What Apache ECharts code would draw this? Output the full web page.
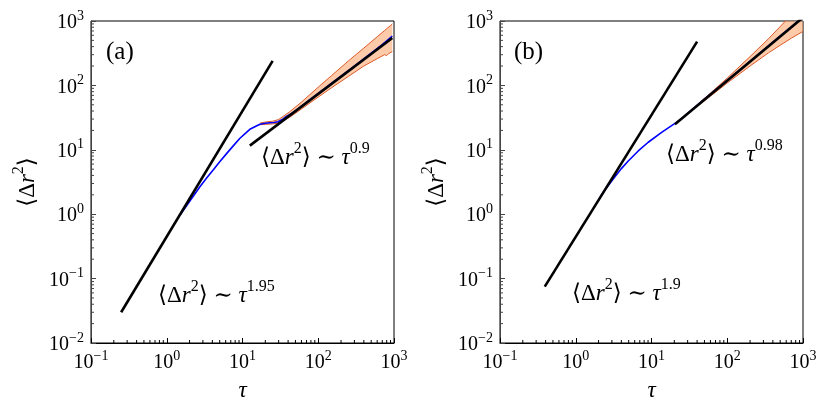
<!DOCTYPE html>
<html>
<head>
<meta charset="utf-8">
<title>MSD</title>
<script src="https://cdn.jsdelivr.net/npm/echarts@6/dist/echarts.min.js"></script>
<style>
html,body{margin:0;padding:0;background:#fff;}
#main{width:830px;height:415px;}
</style>
</head>
<body>
<div id="main"></div>
<script>
var FONT = '"Liberation Serif", "DejaVu Serif", serif';

// ---- panel (a) ----
var tauBlueA = [1.5, 1.74, 2.2, 2.74, 3.4, 4.1, 5, 6.2, 7.5, 9.25, 11, 12.5, 15, 17, 20, 23, 26, 29.5, 34, 38, 45, 57, 80, 120, 200, 300, 500, 700, 950];
var msdBlueA = [0.97, 1.25, 1.85, 2.67, 3.7, 4.85, 6.5, 8.8, 11.4, 15.1, 18.1, 20.8, 23.2, 25, 25.8, 26.3, 26.6, 27.3, 30, 33, 37, 45, 61.5, 88, 139, 200, 316, 430, 585];
var tauBandA = [17, 20, 25, 30, 42, 60, 100, 150, 250, 400, 600, 750, 800, 850, 900, 950];
var upperA = [26, 27, 27.8, 29.5, 39, 55, 94, 142, 240, 380, 570, 710, 760, 805, 850, 900];
var lowerA = [24.5, 24.8, 25.2, 26, 32, 43, 66, 92, 138, 200, 260, 300, 290, 312, 318, 335];
var fitShortA = [[0.25, 0.030], [25, 240]];   // ~ tau^1.95
var fitLongA = [[12.5, 11.6], [950, 545]];    // ~ tau^0.9

// ---- panel (b) ----
var tauBlueB = [2.0, 2.3, 2.69, 3.29, 4.03, 4.93, 6.68, 9.06, 13.6, 20.4, 25, 30, 50, 100, 200, 500, 1000];
var msdBlueB = [1.67, 2.18, 2.8, 3.82, 5.15, 6.7, 9.6, 13.1, 18.7, 25.8, 30.5, 36.8, 61, 120, 237, 580, 1150];
var tauBandB = [40, 60, 100, 200, 350, 500, 700, 1000];
var upperB = [50, 76, 130, 280, 530, 820, 1250, 1900];
var lowerB = [47, 68, 109, 200, 320, 420, 540, 690];
var fitShortB = [[0.39, 0.075], [40, 478]];   // ~ tau^1.9
var fitLongB = [[20.4, 25], [1000, 1132]];    // ~ tau^0.98

// axes
var xMin = 0.1, xMax = 1000;
var yMin = 0.01, yMax = 1000;
var minorSteps = [2, 3, 4, 5, 6, 7, 8, 9];
var xDecades = [0.1, 1, 10, 100];
var yDecades = [0.01, 0.1, 1, 10, 100];

var BAND_FILL = 'rgba(251,160,100,0.55)';
var BAND_EDGE = '#dc5b2a';

function pairs(xs, ys){
	var out = [];
	for (var i = 0; i < xs.length; i++){
		out.push([xs[i], ys[i]]);
	}
	return out;
}

function powLabel(v){
	var e = Math.round(Math.log(v) / Math.LN10);
	var s = e < 0 ? '\u2212' + (-e) : '' + e;
	return '{b|10}{s|' + s + '}';
}

var tickRich = {
	b: {fontSize: 20, fontFamily: FONT, color: '#000', lineHeight: 24, verticalAlign: 'bottom'},
	s: {fontSize: 14, fontFamily: FONT, color: '#000', lineHeight: 16, verticalAlign: 'top'}
};

var msdName = '{n|\u27E8\u0394}{i|r}{s|2}{n|\u27E9}';
var msdRich = {
	n: {fontSize: 23, fontFamily: FONT, color: '#000', lineHeight: 28, verticalAlign: 'bottom'},
	i: {fontSize: 23, fontFamily: FONT, fontStyle: 'italic', color: '#000', lineHeight: 28, verticalAlign: 'bottom'},
	s: {fontSize: 16, fontFamily: FONT, color: '#000', lineHeight: 17, verticalAlign: 'top'}
};

function lawText(exp){
	return '{n|\u27E8\u0394}{i|r}{s|2}{n|\u27E9 \u223C }{i|\u03C4}{s|' + exp + '}';
}

function minorList(decades){
	var out = [];
	for (var d = 0; d < decades.length; d++){
		for (var k = 0; k < minorSteps.length; k++){
			out.push(+(decades[d] * minorSteps[k]).toPrecision(3));
		}
	}
	return out;
}

function xAxisFor(idx){
	return {
		type: 'log', logBase: 10, gridIndex: idx, min: xMin, max: xMax,
		axisLine: {onZero: false, lineStyle: {color: '#000', width: 1}},
		axisTick: {inside: true, length: 5, lineStyle: {color: '#000'}},
		axisLabel: {formatter: powLabel, rich: tickRich, margin: 6, showMinLabel: true, showMaxLabel: true},
		splitLine: {show: false},
		name: '\u03C4', nameLocation: 'middle', nameGap: 36,
		nameTextStyle: {fontFamily: FONT, fontSize: 23, fontStyle: 'italic', color: '#000'}
	};
}

function yAxisFor(idx){
	return {
		type: 'log', logBase: 10, gridIndex: idx, min: yMin, max: yMax,
		axisLine: {onZero: false, lineStyle: {color: '#444', width: 1}},
		axisTick: {inside: true, length: 5, lineStyle: {color: '#444'}},
		axisLabel: {formatter: powLabel, rich: tickRich, margin: 7, showMinLabel: true, showMaxLabel: true},
		splitLine: {show: false},
		name: msdName, nameLocation: 'middle', nameGap: 52, nameRotate: 90,
		nameTextStyle: {rich: msdRich}
	};
}

function bandSeries(idx, tau, up, lo){
	return {
		type: 'custom', xAxisIndex: idx, yAxisIndex: idx, silent: true, clip: true, z: 1,
		data: [[tau[0], up[0]]],
		renderItem: function(params, api){
			var pts = [];
			for (var i = 0; i < tau.length; i++) pts.push(api.coord([tau[i], up[i]]));
			for (var j = tau.length - 1; j >= 0; j--) pts.push(api.coord([tau[j], lo[j]]));
			return {type: 'polygon', shape: {points: pts}, style: {fill: BAND_FILL, stroke: null}};
		}
	};
}

function lineSeries(idx, data, color, width, z){
	return {
		type: 'line', xAxisIndex: idx, yAxisIndex: idx, data: data,
		showSymbol: false, symbol: 'none', silent: true, z: z,
		lineStyle: {color: color, width: width}
	};
}

function minorSeries(idx, vals, horizontal){
	var data = [];
	for (var i = 0; i < vals.length; i++){
		data.push(horizontal ? [vals[i], yMin] : [xMin, vals[i]]);
	}
	return {
		type: 'custom', xAxisIndex: idx, yAxisIndex: idx, silent: true, z: 6,
		data: data,
		renderItem: function(params, api){
			var p = api.coord([api.value(0), api.value(1)]);
			var shape = horizontal
				? {x1: p[0], y1: p[1], x2: p[0], y2: p[1] - 3}
				: {x1: p[0], y1: p[1], x2: p[0] + 3, y2: p[1]};
			return {type: 'line', shape: shape, style: {stroke: horizontal ? '#000' : '#444', lineWidth: 1}};
		}
	};
}

function labelText(left, top, text, size){
	return {
		type: 'text', left: left, top: top, z: 20,
		style: {text: text, fontFamily: FONT, fontSize: size, fill: '#000'}
	};
}

function lawLabel(left, top, exp){
	return {
		type: 'text', left: left, top: top, z: 20,
		style: {text: lawText(exp), rich: {
			n: {fontSize: 23, fontFamily: FONT, fill: '#000', lineHeight: 28, verticalAlign: 'bottom'},
			i: {fontSize: 23, fontFamily: FONT, fontStyle: 'italic', fill: '#000', lineHeight: 28, verticalAlign: 'bottom'},
			s: {fontSize: 16, fontFamily: FONT, fill: '#000', lineHeight: 17, verticalAlign: 'top'}
		}}
	};
}

var xMinor = minorList(xDecades);
var yMinor = minorList(yDecades);

var myChart = echarts.init(document.getElementById('main'), null, {renderer: 'canvas'});
var option = {
	animation: false,
	backgroundColor: '#fff',
	grid: [
		{left: 91, top: 21, width: 303, height: 322, show: true, borderColor: '#000', borderWidth: 1, backgroundColor: 'transparent'},
		{left: 500, top: 21, width: 303, height: 322, show: true, borderColor: '#000', borderWidth: 1, backgroundColor: 'transparent'}
	],
	xAxis: [xAxisFor(0), xAxisFor(1)],
	yAxis: [yAxisFor(0), yAxisFor(1)],
	series: [
		bandSeries(0, tauBandA, upperA, lowerA),
		lineSeries(0, pairs(tauBandA, upperA), BAND_EDGE, 1, 2),
		lineSeries(0, pairs(tauBandA, lowerA), BAND_EDGE, 1, 2),
		lineSeries(0, pairs(tauBlueA, msdBlueA), '#0000ff', 1.6, 3),
		lineSeries(0, fitShortA, '#000', 2.6, 4),
		lineSeries(0, fitLongA, '#000', 2.6, 4),
		minorSeries(0, xMinor, true),
		minorSeries(0, yMinor, false),

		bandSeries(1, tauBandB, upperB, lowerB),
		lineSeries(1, pairs(tauBandB, upperB), BAND_EDGE, 1, 2),
		lineSeries(1, pairs(tauBandB, lowerB), BAND_EDGE, 1, 2),
		lineSeries(1, pairs(tauBlueB, msdBlueB), '#0000ff', 1.6, 3),
		lineSeries(1, fitShortB, '#000', 2.6, 4),
		lineSeries(1, fitLongB, '#000', 2.6, 4),
		minorSeries(1, xMinor, true),
		minorSeries(1, yMinor, false)
	],
	graphic: [
		labelText(106, 40, '(a)', 25),
		lawLabel(158, 279, '1.95'),
		lawLabel(261, 141, '0.9'),
		labelText(514, 40, '(b)', 25),
		lawLabel(572, 277, '1.9'),
		lawLabel(666, 138, '0.98')
	]
};
myChart.setOption(option);
</script>
</body>
</html>
